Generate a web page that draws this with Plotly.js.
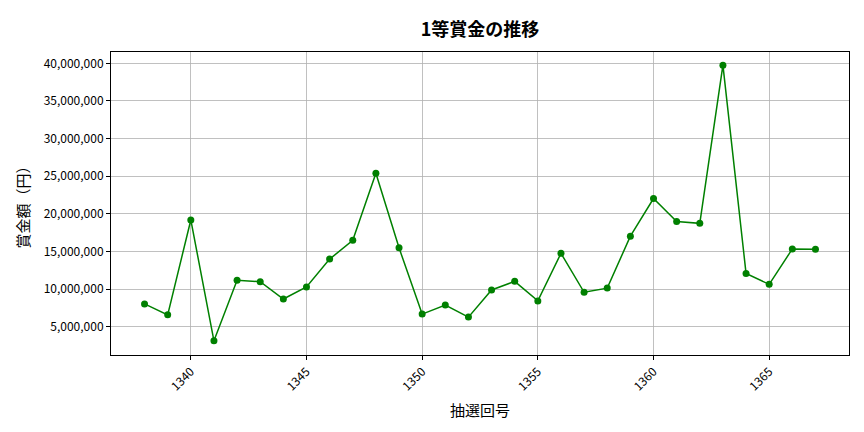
<!DOCTYPE html>
<html>
<head>
<meta charset="utf-8">
<script src="https://cdn.plot.ly/plotly-3.0.1.min.js"></script>
<style>body{margin:0;}#chart{width:864px;height:432px;}</style>
</head>
<body>
<div id="chart"></div>
<script>
// 抽選回号と1等賞金
const draws = [1338, 1339, 1340, 1341, 1342, 1343, 1344, 1345, 1346, 1347,
  1348, 1349, 1350, 1351, 1352, 1353, 1354, 1355, 1356, 1357,
  1358, 1359, 1360, 1361, 1362, 1363, 1364, 1365, 1366, 1367];
const prizes = [8050000, 6600000, 19200000, 3150000, 11200000, 11000000, 8700000, 10300000, 14000000, 16500000,
  25400000, 15500000, 6700000, 7900000, 6300000, 9900000, 11050000, 8450000, 14770000, 9600000,
  10150000, 17050000, 22050000, 19000000, 18750000, 39750000, 12100000, 10650000, 15350000, 15300000];
const xTicks = [1340, 1345, 1350, 1355, 1360, 1365];
const yTicks = [5000000, 10000000, 15000000, 20000000, 25000000, 30000000, 35000000, 40000000];

const font = 'Noto Sans CJK JP, Noto Sans, sans-serif';

Plotly.newPlot('chart', [{
  x: draws,
  y: prizes,
  type: 'scatter',
  mode: 'lines+markers',
  line: {color: 'green', width: 1.5},
  marker: {color: 'green', size: 7}
}], {
  width: 864,
  height: 432,
  margin: {l: 111, r: 15, t: 52, b: 77},
  paper_bgcolor: 'white',
  plot_bgcolor: 'white',
  font: {family: font, color: 'black', size: 12},
  showlegend: false,
  title: {text: '<b>1等賞金の推移</b>', font: {size: 18, family: font}, xref: 'paper', x: 0.5, xanchor: 'center', y: 0.945},
  xaxis: {
    range: [1336.55, 1368.45],
    tickvals: xTicks,
    ticktext: xTicks.map(String),
    tickangle: -45,
    showgrid: true,
    gridcolor: '#b0b0b0',
    gridwidth: 0.8,
    zeroline: false,
    showline: true,
    mirror: true,
    linecolor: 'black',
    linewidth: 1,
    ticks: 'outside',
    ticklen: 4,
    tickcolor: 'black',
    title: {text: '抽選回号', font: {size: 15, family: font}, standoff: 12}
  },
  yaxis: {
    range: [1270000, 41500000],
    tickvals: yTicks,
    ticktext: yTicks.map(v => v.toLocaleString('en-US')),
    showgrid: true,
    gridcolor: '#b0b0b0',
    gridwidth: 0.8,
    zeroline: false,
    showline: true,
    mirror: true,
    linecolor: 'black',
    linewidth: 1,
    ticks: 'outside',
    ticklen: 4,
    tickcolor: 'black',
    title: {text: '賞金額（円）', font: {size: 15, family: font}, standoff: 10}
  }
}, {displayModeBar: false, staticPlot: true});
</script>
</body>
</html>
